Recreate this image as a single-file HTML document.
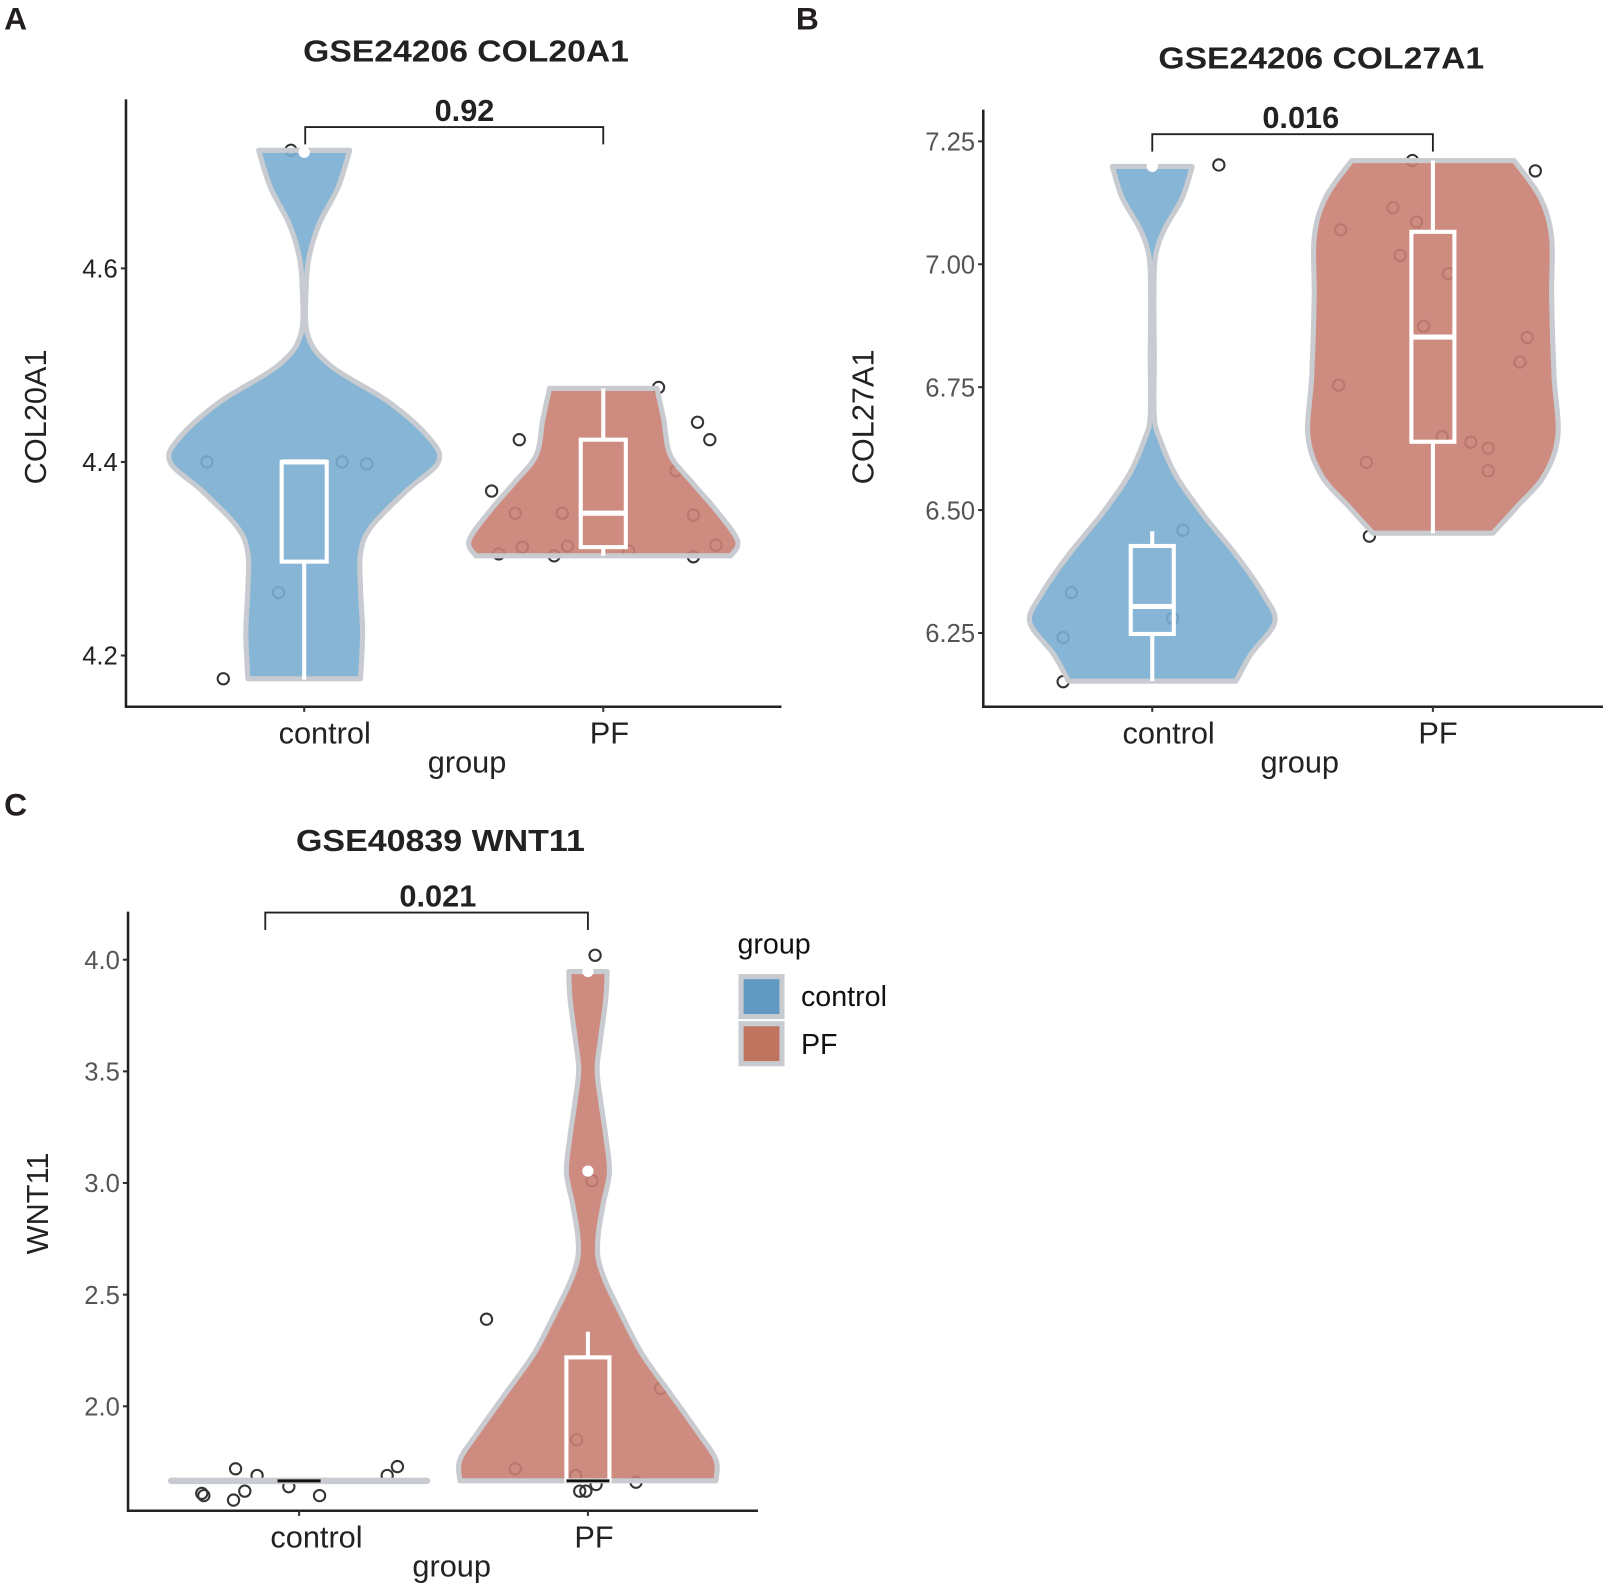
<!DOCTYPE html>
<html><head><meta charset="utf-8"><style>
html,body{margin:0;padding:0;background:#fff;}
svg{display:block;font-family:"Liberation Sans",Arial,sans-serif;}
</style></head><body>
<svg id="fig" width="1606" height="1588" viewBox="0 0 1568 1550.4" xmlns="http://www.w3.org/2000/svg">
<rect width="1568" height="1551" fill="#fff"/>
<g font-weight="bold" font-size="31" fill="#231f20">
<text x="4" y="29">A</text>
<text x="777" y="29">B</text>
<text x="4" y="796">C</text>
</g>
<g id="pA"></g>
<g id="pB"></g>
<g id="pC"></g>
<g font-size="28" fill="#111">
<text x="720" y="931">group</text>
<rect x="721" y="951" width="45" height="44" fill="#c8ccd0"/>
<rect x="726" y="956" width="35" height="34" fill="#6199c2"/>
<text x="782" y="982">control</text>
<rect x="721" y="997" width="45" height="44" fill="#c8ccd0"/>
<rect x="726" y="1002" width="35" height="34" fill="#c0735f"/>
<text x="782" y="1029">PF</text>
</g>
</svg>
<script>
// ---------- data ----------
const categories = ["control", "PF"];
// Panel A
const aTicks = [4.2, 4.4, 4.6];
const aTickLabels = ["4.2", "4.4", "4.6"];
const aCtrlVals = [4.722,4.683,4.647,4.614,4.582,4.531,4.499,4.462,4.425,4.4,4.37,4.333,4.306,4.269,4.223,4.176];
const aCtrlDens = [0.34,0.25,0.115,0.04,0.015,0.027,0.2,0.63,0.93,1.0,0.76,0.5,0.42,0.42,0.435,0.42];
const aPfVals = [4.476,4.444,4.407,4.379,4.352,4.319,4.303];
const aPfDens = [0.40,0.45,0.50,0.66,0.83,1.0,0.95];
const aCtrlBox = [4.175,4.297,4.40,4.40,4.40];
const aPfBox = [4.303,4.312,4.347,4.423,4.476];
const aCtrlPtsY = [4.4,4.4,4.398,4.265,4.176,4.722];
const aCtrlPtsJ = [-95,37,61,-25,-79,-13];
const aPfPtsY = [4.423,4.37,4.347,4.347,4.312,4.313,4.305,4.303,4.308,4.477,4.441,4.423,4.391,4.345,4.314,4.302];
const aPfPtsJ = [-82,-109,-86,-40,-79,-35,-102,-48,25,54,92,104,71,88,110,88];
const aOutliers = [[0,4.72]];
const aP = "0.92";
// Panel B
const bTicks = [6.25,6.5,6.75,7.0,7.25];
const bTickLabels = ["6.25","6.50","6.75","7.00","7.25"];
const bCtrlVals = [7.199,7.135,7.07,7.014,6.933,6.812,6.691,6.643,6.57,6.49,6.409,6.328,6.272,6.207,6.152];
const bCtrlDens = [0.32,0.24,0.095,0.025,0.013,0.016,0.016,0.063,0.19,0.41,0.67,0.89,0.98,0.79,0.67];
const bPfVals = [7.211,7.135,7.054,6.933,6.772,6.651,6.57,6.506,6.453];
const bPfDens = [0.65,0.86,0.95,0.95,0.97,1.0,0.89,0.67,0.48];
const bCtrlBox = [6.152,6.248,6.304,6.427,6.457];
const bPfBox = [6.453,6.639,6.852,7.066,7.211];
const bCtrlPtsY = [7.202,6.151,6.332,6.241,6.459,6.28];
const bCtrlPtsJ = [65,-87,-79,-87,30,20];
const bPfPtsY = [7.211,7.19,7.07,7.115,7.086,7.018,6.981,6.874,6.851,6.801,6.754,6.649,6.638,6.626,6.58,6.597,6.447];
const bPfPtsJ = [-20,100,-90,-39,-16,-32,15,-9,92,85,-92,9,37,54,54,-65,-62];
const bOutliers = [[0,7.199]];
const bP = "0.016";
// Panel C
const cTicks = [2.0,2.5,3.0,3.5,4.0];
const cTickLabels = ["2.0","2.5","3.0","3.5","4.0"];
const cCtrlVals = [1.667,1.665];
const cCtrlDens = [1.0,1.0];
const cPfVals = [3.947,3.827,3.65,3.509,3.367,3.208,3.049,2.908,2.767,2.661,2.555,2.413,2.237,2.06,1.883,1.76,1.666];
const cPfDens = [0.15,0.14,0.10,0.072,0.10,0.14,0.168,0.12,0.08,0.08,0.14,0.26,0.42,0.64,0.86,1.0,1.0];
const cCtrlBox = [1.666,1.666,1.666,1.666,1.666];
const cPfBox = [1.666,1.666,1.666,2.219,2.334];
const cCtrlPtsY = [1.61,1.60,1.58,1.62,1.72,1.69,1.64,1.60,1.69,1.73];
const cCtrlPtsJ = [-95,-93,-64,-53,-62,-41,-10,20,86,96];
const cPfPtsY = [2.39,4.02,3.01,2.08,1.85,1.72,1.69,1.62,1.62,1.65,1.66];
const cPfPtsJ = [-99,7,4,71,-11,-71,-12,-8,-2,8,47];
const cOutliers = [[1,3.947],[1,3.053]];
const cP = "0.021";

// ---------- drawing ----------
const NS = "http://www.w3.org/2000/svg";
function mk(parent, tag, attrs, name, text){
  const e = document.createElementNS(NS, tag);
  for (const k in attrs) e.setAttribute(k, attrs[k]);
  
  
  if (text !== undefined) e.textContent = text;
  parent.appendChild(e);
  return e;
}
function smooth(pts){
  // Catmull-Rom through pts, returns segment commands (without initial M)
  let s = '';
  for (let i=0;i<pts.length-1;i++){
    const p0 = pts[Math.max(0,i-1)], p1 = pts[i], p2 = pts[i+1], p3 = pts[Math.min(pts.length-1,i+2)];
    const c1 = [p1[0]+(p2[0]-p0[0])/6, p1[1]+(p2[1]-p0[1])/6];
    const c2 = [p2[0]-(p3[0]-p1[0])/6, p2[1]-(p3[1]-p1[1])/6];
    s += ` C${c1[0].toFixed(1)},${c1[1].toFixed(1)} ${c2[0].toFixed(1)},${c2[1].toFixed(1)} ${p2[0].toFixed(1)},${p2[1].toFixed(1)}`;
  }
  return s;
}
const FILL = ["#7aadd0", "#c97e72"];
function panel(g, cfg){
  const y = v => cfg.y0 - (v - cfg.v0) * cfg.k;
  mk(g,'text',{x:cfg.titleX,y:cfg.titleY,'text-anchor':'middle','font-size':30,'font-weight':'bold',fill:'#222',textLength:cfg.titleW,lengthAdjust:'spacingAndGlyphs'},'chart-title',cfg.title);
  mk(g,'text',{x:0,y:0,transform:`translate(${cfg.ytX},${cfg.ytY}) rotate(-90)`,'text-anchor':'middle','font-size':30,fill:'#222'},'y-axis-title',cfg.ytitle);
  cfg.ticks.forEach((t,i)=>{
    mk(g,'line',{x1:cfg.ax-5,x2:cfg.ax,y1:y(t),y2:y(t),stroke:'#333','stroke-width':2},'y-tick');
    mk(g,'text',{x:cfg.ax-8,y:y(t)+9,'text-anchor':'end','font-size':25,fill:cfg.tickColor},'y-tick-label',cfg.tickLabels[i]);
  });
  const pts = [[cfg.ctrlPtsY,cfg.ctrlPtsJ,0],[cfg.pfPtsY,cfg.pfPtsJ,1]];
  pts.forEach(([ys,js,ci])=>{
    ys.forEach((v,i)=>{
      mk(g,'circle',{cx:cfg.cx[ci]+js[i],cy:y(v),r:5.5,fill:'none',stroke:'#333','stroke-width':2},'data-point-'+categories[ci]);
    });
  });
  const vs = [[cfg.ctrlVals,cfg.ctrlDens,0],[cfg.pfVals,cfg.pfDens,1]];
  vs.forEach(([vals,dens,ci])=>{
    const cx = cfg.cx[ci];
    const right = vals.map((v,i)=>[cx+dens[i]*cfg.maxHalf, y(v)]);
    const left = vals.map((v,i)=>[cx-dens[i]*cfg.maxHalf, y(v)]).reverse();
    let d = `M${right[0][0].toFixed(1)},${right[0][1].toFixed(1)}` + smooth(right) +
            ` L${left[0][0].toFixed(1)},${left[0][1].toFixed(1)}` + smooth(left) + ' Z';
    mk(g,'path',{d:d,fill:FILL[ci],'fill-opacity':0.9,stroke:'#c8ccd0','stroke-width':cfg.flat&&ci===0?6:5,'stroke-linejoin':'round'},'violin-'+categories[ci]);
  });
  [[cfg.ctrlBox,0],[cfg.pfBox,1]].forEach(([b,ci])=>{
    const cx = cfg.cx[ci], hw = cfg.boxHalf;
    if (b[3]-b[1] > 0.0001){
      mk(g,'line',{x1:cx,x2:cx,y1:y(b[0]),y2:y(b[1]),stroke:'#fff','stroke-width':4},'whisker-low-'+categories[ci]);
      mk(g,'line',{x1:cx,x2:cx,y1:y(b[3]),y2:y(b[4]),stroke:'#fff','stroke-width':4},'whisker-high-'+categories[ci]);
      mk(g,'rect',{x:cx-hw,y:y(b[3]),width:2*hw,height:y(b[1])-y(b[3]),fill:'none',stroke:'#fff','stroke-width':4},'box-'+categories[ci]);
    }
    mk(g,'line',{x1:cx-hw,x2:cx+hw,y1:y(b[2]),y2:y(b[2]),stroke:cfg.medColor,'stroke-width':cfg.medW},'median-'+categories[ci]);
  });
  cfg.outliers.forEach(o=>{
    mk(g,'circle',{cx:cfg.cx[o[0]],cy:y(o[1]),r:5.5,fill:'#fff'},'outlier-'+categories[o[0]]);
  });
  mk(g,'line',{x1:cfg.ax,x2:cfg.ax,y1:cfg.axTop,y2:cfg.axY+1,stroke:'#222','stroke-width':2.5},'y-axis');
  mk(g,'line',{x1:cfg.ax-1,x2:cfg.axRight,y1:cfg.axY,y2:cfg.axY,stroke:'#222','stroke-width':2.5},'x-axis');
  cfg.cx.forEach((x,i)=>{
    mk(g,'line',{x1:x,x2:x,y1:cfg.axY,y2:cfg.axY+5,stroke:'#333','stroke-width':2},'x-tick');
    mk(g,'text',{x:cfg.labX[i],y:cfg.axY+36,'text-anchor':'middle','font-size':30,fill:'#222'},'x-tick-label',categories[i]);
  });
  mk(g,'text',{x:cfg.xtX,y:cfg.axY+64,'text-anchor':'middle','font-size':30,fill:'#222'},'x-axis-title','group');
  const bx = cfg.brX;
  mk(g,'path',{d:`M${bx[0]},${cfg.brY+17} L${bx[0]},${cfg.brY} L${bx[1]},${cfg.brY} L${bx[1]},${cfg.brY+17}`,fill:'none',stroke:'#222','stroke-width':1.8},'significance-bracket');
  mk(g,'text',{x:(bx[0]+bx[1])/2-(cfg.pOff||0),y:cfg.brY-6,'text-anchor':'middle','font-size':30,'font-weight':'bold',fill:'#222'},'p-value-label',cfg.p);
}
panel(document.getElementById('pA'),{
  v0:4.4,y0:451,k:945,ax:123,axTop:97,axY:690,axRight:763,cx:[297,589],labX:[317,595],xtX:456,
  ticks:aTicks,tickLabels:aTickLabels,tickColor:'#222',maxHalf:131,boxHalf:22,medColor:'#fff',medW:5,
  ctrlVals:aCtrlVals,ctrlDens:aCtrlDens,pfVals:aPfVals,pfDens:aPfDens,ctrlBox:aCtrlBox,pfBox:aPfBox,
  ctrlPtsY:aCtrlPtsY,ctrlPtsJ:aCtrlPtsJ,pfPtsY:aPfPtsY,pfPtsJ:aPfPtsJ,outliers:aOutliers,
  title:'GSE24206 COL20A1',titleX:455,titleY:60,titleW:318,ytitle:'COL20A1',ytX:45,ytY:407,
  brX:[298,589],brY:124,p:aP,pOff:-10
});
panel(document.getElementById('pB'),{
  v0:7.0,y0:258,k:480,ax:960,axTop:107,axY:690,axRight:1565,cx:[1125,1399],labX:[1141,1404],xtX:1269,
  ticks:bTicks,tickLabels:bTickLabels,tickColor:'#555',maxHalf:122,boxHalf:21,medColor:'#fff',medW:5,
  ctrlVals:bCtrlVals,ctrlDens:bCtrlDens,pfVals:bPfVals,pfDens:bPfDens,ctrlBox:bCtrlBox,pfBox:bPfBox,
  ctrlPtsY:bCtrlPtsY,ctrlPtsJ:bCtrlPtsJ,pfPtsY:bPfPtsY,pfPtsJ:bPfPtsJ,outliers:bOutliers,
  title:'GSE24206 COL27A1',titleX:1290,titleY:67,titleW:318,ytitle:'COL27A1',ytX:853,ytY:407,
  brX:[1125,1399],brY:131,p:bP,pOff:-8
});
panel(document.getElementById('pC'),{
  v0:4.0,y0:937,k:218,ax:125,axTop:890,axY:1475,axRight:740,cx:[292,574],labX:[309,580],xtX:441,
  ticks:cTicks,tickLabels:cTickLabels,tickColor:'#555',maxHalf:125,boxHalf:21,medColor:'#111',medW:3,flat:true,
  ctrlVals:cCtrlVals,ctrlDens:cCtrlDens,pfVals:cPfVals,pfDens:cPfDens,ctrlBox:cCtrlBox,pfBox:cPfBox,
  ctrlPtsY:cCtrlPtsY,ctrlPtsJ:cCtrlPtsJ,pfPtsY:cPfPtsY,pfPtsJ:cPfPtsJ,outliers:cOutliers,
  title:'GSE40839 WNT11',titleX:430,titleY:831,titleW:282,ytitle:'WNT11',ytX:47,ytY:1175,
  brX:[259,574],brY:891,p:cP,pOff:-11
});
</script>
</body></html>
